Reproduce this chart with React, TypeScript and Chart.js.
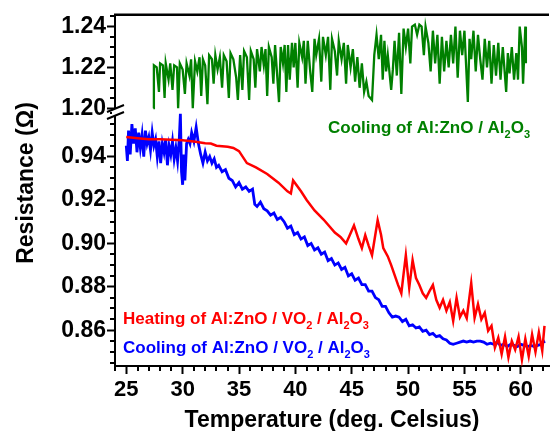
import React, { useEffect, useRef } from 'react';
import { Chart, registerables } from 'chart.js';

Chart.register(...registerables);

const FONT = "'Liberation Sans', Arial, Helvetica, sans-serif";

// Temperature (deg. Celsius) vs resistance (Ohm)
const greenCoolingAZO: [number, number][] = [
  [27.4, 1.200], [27.45, 1.221], [27.7, 1.220], [27.9, 1.208], [28.0, 1.222], [28.25, 1.221], [28.4, 1.205], [28.5, 1.222],
  [28.75, 1.214], [28.9, 1.222], [29.1, 1.209], [29.25, 1.221], [29.5, 1.220], [29.6, 1.200], [29.75, 1.222], [30.0, 1.219],
  [30.2, 1.207], [30.35, 1.222], [30.6, 1.216], [30.75, 1.224], [30.9, 1.200], [31.1, 1.223], [31.3, 1.218], [31.5, 1.225],
  [31.65, 1.206], [31.8, 1.224], [32.0, 1.221], [32.2, 1.202], [32.35, 1.226], [32.6, 1.224], [32.75, 1.212], [32.9, 1.226],
  [33.1, 1.219], [33.3, 1.225], [33.5, 1.210], [33.65, 1.226], [33.9, 1.223], [34.1, 1.205], [34.25, 1.227], [34.5, 1.224],
  [34.75, 1.215], [34.9, 1.204], [35.1, 1.226], [35.3, 1.209], [35.45, 1.228], [35.7, 1.225], [35.9, 1.204], [36.05, 1.228],
  [36.3, 1.224], [36.45, 1.210], [36.6, 1.229], [36.85, 1.218], [37.0, 1.230], [37.2, 1.221], [37.35, 1.229], [37.5, 1.206],
  [37.65, 1.230], [37.9, 1.225], [38.05, 1.212], [38.2, 1.231], [38.55, 1.203], [38.7, 1.230], [38.9, 1.222], [39.05, 1.231],
  [39.2, 1.208], [39.35, 1.231], [39.5, 1.214], [39.7, 1.232], [39.85, 1.220], [40.0, 1.232], [40.2, 1.210], [40.35, 1.232],
  [40.6, 1.225], [40.75, 1.233], [40.9, 1.212], [41.1, 1.233], [41.3, 1.219], [41.5, 1.208], [41.7, 1.234], [41.85, 1.226],
  [42.1, 1.234], [42.3, 1.213], [42.45, 1.235], [42.7, 1.226], [42.9, 1.235], [43.1, 1.209], [43.25, 1.234], [43.5, 1.228],
  [43.7, 1.216], [43.85, 1.233], [44.1, 1.224], [44.3, 1.232], [44.5, 1.212], [44.65, 1.231], [44.9, 1.220], [45.1, 1.229],
  [45.3, 1.213], [45.5, 1.225], [45.7, 1.210], [45.9, 1.222], [46.1, 1.208], [46.3, 1.213], [46.5, 1.206], [46.8, 1.204],
  [47.0, 1.226], [47.2, 1.236], [47.4, 1.224], [47.6, 1.236], [47.75, 1.214], [47.9, 1.233], [48.05, 1.218], [48.2, 1.226],
  [48.5, 1.209], [48.65, 1.219], [48.8, 1.233], [49.0, 1.216], [49.2, 1.237], [49.4, 1.207], [49.6, 1.239], [49.8, 1.230],
  [50.0, 1.239], [50.2, 1.222], [50.35, 1.240], [50.6, 1.241], [50.8, 1.236], [51.0, 1.241], [51.2, 1.240], [51.4, 1.226],
  [51.55, 1.240], [51.8, 1.232], [52.0, 1.218], [52.2, 1.238], [52.4, 1.222], [52.6, 1.236], [52.8, 1.212], [53.0, 1.235],
  [53.2, 1.218], [53.4, 1.233], [53.6, 1.220], [53.8, 1.236], [54.0, 1.222], [54.2, 1.240], [54.4, 1.215], [54.6, 1.238],
  [54.8, 1.226], [55.0, 1.238], [55.3, 1.203], [55.45, 1.234], [55.6, 1.224], [55.8, 1.238], [56.0, 1.218], [56.2, 1.236],
  [56.4, 1.224], [56.6, 1.214], [56.8, 1.234], [57.0, 1.220], [57.2, 1.233], [57.4, 1.212], [57.6, 1.231], [57.8, 1.216],
  [58.0, 1.232], [58.2, 1.214], [58.4, 1.230], [58.7, 1.208], [58.85, 1.227], [59.0, 1.217], [59.2, 1.230], [59.4, 1.214],
  [59.6, 1.227], [59.75, 1.214], [59.9, 1.240], [60.1, 1.230], [60.2, 1.212], [60.3, 1.226], [60.4, 1.240], [60.45, 1.222]
];

const redHeatingVO2: [number, number][] = [
  [25.0, 0.949], [26.0, 0.9485], [27.0, 0.948], [28.0, 0.948], [29.0, 0.9478], [30.0, 0.9475], [31.0, 0.947], [32.0, 0.9462],
  [32.5, 0.946], [33.0, 0.945], [34.0, 0.9445], [34.5, 0.944], [35.0, 0.9425], [35.7, 0.937], [36.5, 0.935], [37.5, 0.932],
  [38.5, 0.928], [39.3, 0.924], [39.6, 0.923], [39.8, 0.929], [40.5, 0.924], [41.0, 0.920], [41.7, 0.9152], [42.5, 0.911],
  [43.5, 0.905], [44.0, 0.903], [44.5, 0.900], [45.2, 0.9083], [45.6, 0.902], [45.9, 0.8978], [46.2, 0.9038], [46.5, 0.899],
  [46.8, 0.8946], [47.3, 0.9107], [47.6, 0.904], [47.8, 0.8978], [48.2, 0.894], [48.5, 0.890], [48.8, 0.8855], [49.1, 0.881],
  [49.4, 0.877], [49.6, 0.886], [49.8, 0.8946], [50.1, 0.8795], [50.4, 0.8923], [50.7, 0.884], [51.0, 0.8808], [51.3, 0.877],
  [51.6, 0.8749], [51.9, 0.878], [52.2, 0.8808], [52.5, 0.874], [52.8, 0.8703], [53.1, 0.874], [53.4, 0.869], [53.7, 0.873],
  [54.0, 0.8643], [54.3, 0.8749], [54.6, 0.866], [54.9, 0.869], [55.2, 0.8655], [55.6, 0.8817], [55.9, 0.8657], [56.2, 0.872],
  [56.5, 0.865], [56.8, 0.868], [57.1, 0.8597], [57.4, 0.862], [57.7, 0.852], [58.0, 0.8565], [58.3, 0.849], [58.6, 0.857],
  [58.9, 0.8475], [59.2, 0.855], [59.5, 0.851], [59.8, 0.857], [60.1, 0.8464], [60.4, 0.856], [60.7, 0.848], [61.0, 0.858],
  [61.3, 0.850], [61.6, 0.859], [61.9, 0.8505], [62.1, 0.862]
];

const blueCoolingVO2: [number, number][] = [
  [25.0, 0.945], [25.1, 0.938], [25.2, 0.952], [25.35, 0.941], [25.5, 0.955], [25.65, 0.946], [25.8, 0.953], [25.95, 0.942],
  [26.1, 0.951], [26.25, 0.944], [26.4, 0.950], [26.55, 0.940], [26.7, 0.952], [26.85, 0.946], [27.0, 0.949], [27.15, 0.943],
  [27.3, 0.951], [27.45, 0.945], [27.6, 0.948], [27.75, 0.940], [27.9, 0.947], [28.05, 0.937], [28.2, 0.946], [28.35, 0.942],
  [28.5, 0.948], [28.65, 0.936], [28.8, 0.945], [28.95, 0.941], [29.1, 0.947], [29.25, 0.939], [29.4, 0.944], [29.55, 0.938],
  [29.7, 0.948], [29.8, 0.9597], [29.9, 0.933], [30.0, 0.927], [30.1, 0.941], [30.2, 0.929], [30.35, 0.946], [30.5, 0.948],
  [30.65, 0.946], [30.8, 0.951], [31.0, 0.947], [31.2, 0.9535], [31.4, 0.946], [31.6, 0.941], [31.8, 0.937], [32.0, 0.942],
  [32.2, 0.938], [32.4, 0.940], [32.6, 0.937], [32.8, 0.939], [33.0, 0.935], [33.2, 0.936], [33.5, 0.933], [33.8, 0.934],
  [34.1, 0.930], [34.4, 0.929], [34.7, 0.926], [35.0, 0.928], [35.3, 0.925], [35.6, 0.926], [35.9, 0.924], [36.2, 0.925],
  [36.4, 0.918], [36.6, 0.917], [36.9, 0.919], [37.2, 0.916], [37.5, 0.915], [37.8, 0.913], [38.1, 0.914], [38.4, 0.911],
  [38.7, 0.912], [39.0, 0.910], [39.3, 0.907], [39.6, 0.908], [39.9, 0.904], [40.2, 0.905], [40.5, 0.902], [40.8, 0.903],
  [41.1, 0.899], [41.4, 0.900], [41.7, 0.897], [42.0, 0.898], [42.3, 0.895], [42.6, 0.896], [42.9, 0.892], [43.2, 0.893],
  [43.5, 0.890], [43.8, 0.891], [44.1, 0.888], [44.4, 0.889], [44.7, 0.885], [45.0, 0.886], [45.3, 0.883], [45.6, 0.884],
  [45.9, 0.881], [46.2, 0.881], [46.5, 0.878], [46.8, 0.878], [47.1, 0.875], [47.4, 0.874], [47.7, 0.871], [48.0, 0.871],
  [48.3, 0.868], [48.6, 0.866], [48.9, 0.8665], [49.2, 0.866], [49.5, 0.864], [49.8, 0.865], [50.1, 0.862], [50.4, 0.8625],
  [50.7, 0.861], [51.0, 0.8615], [51.3, 0.8595], [51.6, 0.860], [51.9, 0.858], [52.2, 0.8585], [52.5, 0.857], [52.8, 0.8575],
  [53.1, 0.856], [53.4, 0.8555], [53.7, 0.854], [54.0, 0.8535], [54.3, 0.854], [54.6, 0.8545], [54.9, 0.855], [55.2, 0.8545],
  [55.5, 0.855], [55.8, 0.8545], [56.1, 0.855], [56.4, 0.855], [56.7, 0.8545], [57.0, 0.8535], [57.3, 0.854], [57.6, 0.8535],
  [57.9, 0.8545], [58.2, 0.853], [58.5, 0.8535], [58.8, 0.8525], [59.1, 0.8535], [59.4, 0.853], [59.7, 0.8525], [60.0, 0.8535],
  [60.3, 0.853], [60.6, 0.8525], [60.9, 0.853], [61.2, 0.8525], [61.5, 0.853], [61.8, 0.8535], [62.0, 0.855], [62.1, 0.854]
];

const xRange = [24, 62.5];
const yLowRange = [0.8435, 0.961];
const yHighRange = [1.1986, 1.2458];
const yLowLabelMax = 0.95;
const xSteps = [5, 1];
const ySteps = [0.02, 0.005];

const xTitle = 'Temperature (deg. Celsius)';
const yTitle = 'Resistance (\u03A9)';
const seriesNames = [
  'Cooling of Al:ZnO / Al2O3',
  'Heating of Al:ZnO / VO2 / Al2O3',
  'Cooling of Al:ZnO / VO2 / Al2O3',
];
const seriesColors = ['#008000', '#ff0000', '#0000ff'];

// Text pieces: [text, isSubscript]
const labelParts: [string, boolean][][] = [
  [['Cooling of Al:ZnO / Al', false], ['2', true], ['O', false], ['3', true]],
  [['Heating of Al:ZnO / VO', false], ['2', true], [' / Al', false], ['2', true], ['O', false], ['3', true]],
  [['Cooling of Al:ZnO / VO', false], ['2', true], [' / Al', false], ['2', true], ['O', false], ['3', true]],
];

function drawRich(ctx: CanvasRenderingContext2D, parts: [string, boolean][], x: number, y: number, color: string) {
  let cx = x;
  ctx.fillStyle = color;
  ctx.textBaseline = 'alphabetic';
  ctx.textAlign = 'left';
  for (const [t, sub] of parts) {
    ctx.font = `bold ${sub ? 11 : 17}px ${FONT}`;
    ctx.fillText(t, cx, sub ? y + 5 : y);
    cx += ctx.measureText(t).width;
  }
}

const decorPlugin = {
  id: 'decor',
  afterDraw(chart: any) {
    const ctx: CanvasRenderingContext2D = chart.ctx;
    const { left, right, top, bottom } = chart.chartArea;
    const xs = chart.scales.x;
    const yl = chart.scales.yLow;
    const yh = chart.scales.yHigh;
    const isMajor = (sc: any, v: number, tol: number) => sc.ticks.some((t: any) => Math.abs(t.value - v) < tol);
    ctx.save();
    ctx.strokeStyle = '#000';
    ctx.lineCap = 'butt';
    // top frame line
    ctx.lineWidth = 2.5;
    ctx.beginPath();
    ctx.moveTo(left - 1, top);
    ctx.lineTo(right, top);
    ctx.stroke();
    // minor ticks
    ctx.lineWidth = 2;
    ctx.beginPath();
    for (let k = Math.ceil(xRange[0] / xSteps[1]); k * xSteps[1] <= xRange[1]; k++) {
      const v = k * xSteps[1];
      if (isMajor(xs, v, 1e-6)) continue;
      const px = Math.round(xs.getPixelForValue(v));
      ctx.moveTo(px, bottom);
      ctx.lineTo(px, bottom + 5);
    }
    for (const [sc, rng] of [[yl, yLowRange], [yh, yHighRange]] as any) {
      for (let k = Math.ceil(rng[0] / ySteps[1] - 1e-6); k * ySteps[1] <= rng[1] + 1e-9; k++) {
        const v = k * ySteps[1];
        if (isMajor(sc, v, 1e-6)) continue;
        const py = Math.round(sc.getPixelForValue(v));
        ctx.moveTo(left - 5, py);
        ctx.lineTo(left, py);
      }
    }
    ctx.stroke();
    // axis break
    const b = yl.top;
    ctx.fillStyle = '#fff';
    ctx.beginPath();
    ctx.moveTo(left - 3, b - 1);
    ctx.lineTo(left + 3, b - 4);
    ctx.lineTo(left + 3, b + 4);
    ctx.lineTo(left - 3, b + 6);
    ctx.closePath();
    ctx.fill();
    ctx.lineWidth = 2;
    ctx.beginPath();
    ctx.moveTo(left - 8, b + 1);
    ctx.lineTo(left + 9, b - 6);
    ctx.moveTo(left - 8, b + 8);
    ctx.lineTo(left + 9, b + 1);
    ctx.stroke();
    // axis titles
    ctx.fillStyle = '#000';
    ctx.font = `bold 23px ${FONT}`;
    ctx.textAlign = 'center';
    ctx.textBaseline = 'alphabetic';
    ctx.fillText(xTitle, (left + right) / 2, 427);
    ctx.save();
    ctx.translate(33, 183);
    ctx.rotate(-Math.PI / 2);
    ctx.fillText(yTitle, 0, 0);
    ctx.restore();
    // series labels
    drawRich(ctx, labelParts[0], 328, 133, seriesColors[0]);
    drawRich(ctx, labelParts[1], 123, 324, seriesColors[1]);
    drawRich(ctx, labelParts[2], 123, 353, seriesColors[2]);
    ctx.restore();
  },
};

function yScale(range: number[], weight: number, labelMax: number) {
  return {
    type: 'linear',
    position: 'left',
    stack: 'res',
    stackWeight: weight,
    min: range[0],
    max: range[1],
    border: { display: true, color: '#000', width: 2 },
    grid: { display: true, drawOnChartArea: false, drawTicks: true, tickLength: 8, tickWidth: 2, tickColor: '#000' },
    ticks: {
      stepSize: ySteps[0],
      includeBounds: false,
      autoSkip: false,
      color: '#000',
      padding: 1,
      font: { family: FONT, size: 23, weight: 'bold' },
      callback: (v: number) => v.toFixed(2),
    },
    afterBuildTicks: (s: any) => { s.ticks = s.ticks.filter((t: any) => t.value <= labelMax + 1e-9); },
    afterFit: (s: any) => { s.width = 115; },
  };
}

export default function App() {
  const ref = useRef<HTMLCanvasElement>(null);
  useEffect(() => {
    if (!ref.current) return;
    const toPts = (a: [number, number][]) => a.map(([x, y]) => ({ x, y }));
    const chart = new Chart(ref.current, {
      type: 'line',
      data: {
        datasets: [
          { label: seriesNames[0], data: toPts(greenCoolingAZO), yAxisID: 'yHigh', borderColor: seriesColors[0], borderWidth: 2.3, pointRadius: 0, tension: 0 },
          { label: seriesNames[1], data: toPts(redHeatingVO2), yAxisID: 'yLow', borderColor: seriesColors[1], borderWidth: 2.5, pointRadius: 0, tension: 0 },
          { label: seriesNames[2], data: toPts(blueCoolingVO2), yAxisID: 'yLow', borderColor: seriesColors[2], borderWidth: 2.8, pointRadius: 0, tension: 0 },
        ],
      },
      options: {
        animation: false,
        responsive: false,
        devicePixelRatio: 1,
        layout: { padding: { top: 12, right: 1, left: 0, bottom: 0 } },
        plugins: { legend: { display: false }, tooltip: { enabled: false }, title: { display: false } },
        scales: {
          x: {
            type: 'linear',
            min: xRange[0],
            max: xRange[1],
            border: { display: true, color: '#000', width: 2 },
            grid: { display: true, drawOnChartArea: false, drawTicks: true, tickLength: 8, tickWidth: 2, tickColor: '#000' },
            ticks: {
              stepSize: xSteps[0],
              includeBounds: false,
              autoSkip: false,
              maxRotation: 0,
              color: '#000',
              padding: 3,
              font: { family: FONT, size: 22, weight: 'bold' },
            },
            afterFit: (s: any) => { s.height = 65; },
          },
          yLow: yScale(yLowRange, 257, yLowLabelMax),
          yHigh: yScale(yHighRange, 97, yHighRange[1]),
        },
      } as any,
      plugins: [decorPlugin],
    });
    return () => chart.destroy();
  }, []);
  return (
    <div style={{ position: 'fixed', left: 0, top: 0, width: 550, height: 431, background: '#fff' }}>
      <canvas ref={ref} width={550} height={431} style={{ display: 'block' }} />
    </div>
  );
}
